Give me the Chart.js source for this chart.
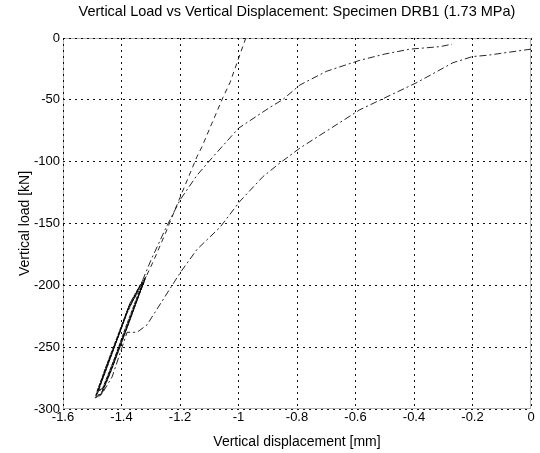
<!DOCTYPE html>
<html>
<head>
<meta charset="utf-8">
<script src="https://cdn.jsdelivr.net/npm/chart.js@4.4.1/dist/chart.umd.min.js"></script>
<style>
  html, body { margin: 0; padding: 0; background: #fff; }
</style>
</head>
<body>
<canvas id="chart" width="540" height="453"></canvas>
<script>
// first loading branch (steep dashed line)
const loadX = [-0.975, -1.002, -1.029, -1.053, -1.091, -1.125, -1.142, -1.2, -1.25, -1.29, -1.318]
const loadY = [0, -18, -36, -48, -69, -88, -96, -129, -158, -180, -194]

// repeated cycles at peak load
const cycleX = [-1.318, -1.372, -1.412, -1.452, -1.488, -1.470, -1.430, -1.392, -1.352, -1.322,
                -1.326, -1.376, -1.414, -1.455, -1.484, -1.466, -1.428, -1.389, -1.350, -1.316,
                -1.330, -1.370, -1.408, -1.449, -1.480, -1.462, -1.424, -1.386, -1.346, -1.320,
                -1.336, -1.378, -1.417, -1.457, -1.490, -1.472, -1.434, -1.395, -1.356, -1.325,
                -1.340, -1.382, -1.421, -1.460, -1.486, -1.468, -1.437, -1.399, -1.360, -1.329]
const cycleY = [-194, -215, -240, -265, -289, -288, -265, -240, -215, -197,
                -199, -218, -243, -268, -286, -284, -262, -238, -213, -193,
                -197, -214, -239, -264, -285, -283, -259, -234, -209, -195,
                -200, -220, -245, -271, -291, -289, -268, -243, -218, -198,
                -202, -223, -248, -273, -290, -288, -270, -246, -221, -200]

// unloading branch (upper curve)
const unloadX = [-1.328, -1.3, -1.251, -1.2, -1.142, -1.087, -1.0, -0.892, -0.85, -0.79, -0.7, -0.585, -0.5, -0.414, -0.311, -0.27]
const unloadY = [-196, -180, -155, -131, -111, -96, -73, -56, -50, -38, -27, -18, -13, -9, -7, -5]

// reloading branch (lower curve)
const reloadX = [0, -0.15, -0.2, -0.267, -0.39, -0.585, -0.79, -0.858, -0.916, -0.995, -1.063, -1.142, -1.2, -1.251, -1.313, -1.347, -1.381, -1.398, -1.432, -1.465]
const reloadY = [-9, -14, -15, -20, -36, -58, -89, -101, -112, -132, -153, -171, -190, -209, -232, -238, -238, -250, -274, -287]

const xMin = -1.6, xMax = 0, xStep = 0.2
const yMin = -300, yMax = 0, yStep = 50

function pts(xs, ys) {
    return xs.map((x, i) => ({ x: x, y: ys[i] }))
}

function line(xs, ys, dash) {
    return {
        data: pts(xs, ys),
        showLine: true,
        borderColor: 'rgba(0,0,0,0.85)',
        borderWidth: 1,
        borderDash: dash,
        pointRadius: 0,
        tension: 0
    }
}

const font = "'Liberation Sans', Arial, sans-serif"

// dotted box around the plot area
const frame = {
    id: 'frame',
    afterDatasetsDraw(chart) {
        const a = chart.chartArea
        const ctx = chart.ctx
        ctx.save()
        ctx.strokeStyle = 'rgba(0,0,0,0.6)'
        ctx.lineWidth = 1
        ctx.setLineDash([1, 1])
        ctx.strokeRect(a.left + 0.5, a.top + 0.5, a.right - a.left - 1, a.bottom - a.top - 1)
        ctx.restore()
    }
}

new Chart(document.querySelector('#chart').getContext('2d'), {
    type: 'scatter',
    data: {
        datasets: [
            line(loadX, loadY, [5, 4]),
            line(cycleX, cycleY, [4, 1]),
            line(unloadX, unloadY, [7, 3, 2, 3]),
            line(reloadX, reloadY, [7, 3, 2, 3])
        ]
    },
    options: {
        responsive: false,
        animation: false,
        layout: { padding: { top: 0, right: 9, left: 0, bottom: 0 } },
        plugins: {
            legend: { display: false },
            tooltip: { enabled: false },
            title: {
                display: true,
                fullSize: false,
                text: 'Vertical Load vs Vertical Displacement: Specimen DRB1 (1.73 MPa)',
                color: '#000',
                font: { family: font, size: 14.5, weight: 'normal' },
                padding: { top: 3, bottom: 17.6 }
            }
        },
        scales: {
            x: {
                type: 'linear',
                min: xMin,
                max: xMax,
                afterFit: s => { s.height = 44 },
                ticks: {
                    stepSize: xStep,
                    color: '#000',
                    padding: 1,
                    maxRotation: 0,
                    font: { family: font, size: 13 },
                    callback: v => String(Math.round(v * 10) / 10)
                },
                grid: { color: '#111', drawTicks: false },
                border: { display: false, dash: [2, 4] },
                title: {
                    display: true,
                    text: 'Vertical displacement [mm]',
                    color: '#000',
                    font: { family: font, size: 14 },
                    padding: { top: 0, bottom: 2 }
                }
            },
            y: {
                type: 'linear',
                min: yMin,
                max: yMax,
                afterFit: s => { s.width = 63 },
                ticks: {
                    stepSize: yStep,
                    color: '#000',
                    padding: 3,
                    font: { family: font, size: 13 }
                },
                grid: { color: '#111', drawTicks: false },
                border: { display: false, dash: [2, 4] },
                title: {
                    display: true,
                    text: 'Vertical load [kN]',
                    color: '#000',
                    font: { family: font, size: 14 },
                    padding: { top: 17, bottom: 0 }
                }
            }
        }
    },
    plugins: [frame]
})
</script>
</body>
</html>
